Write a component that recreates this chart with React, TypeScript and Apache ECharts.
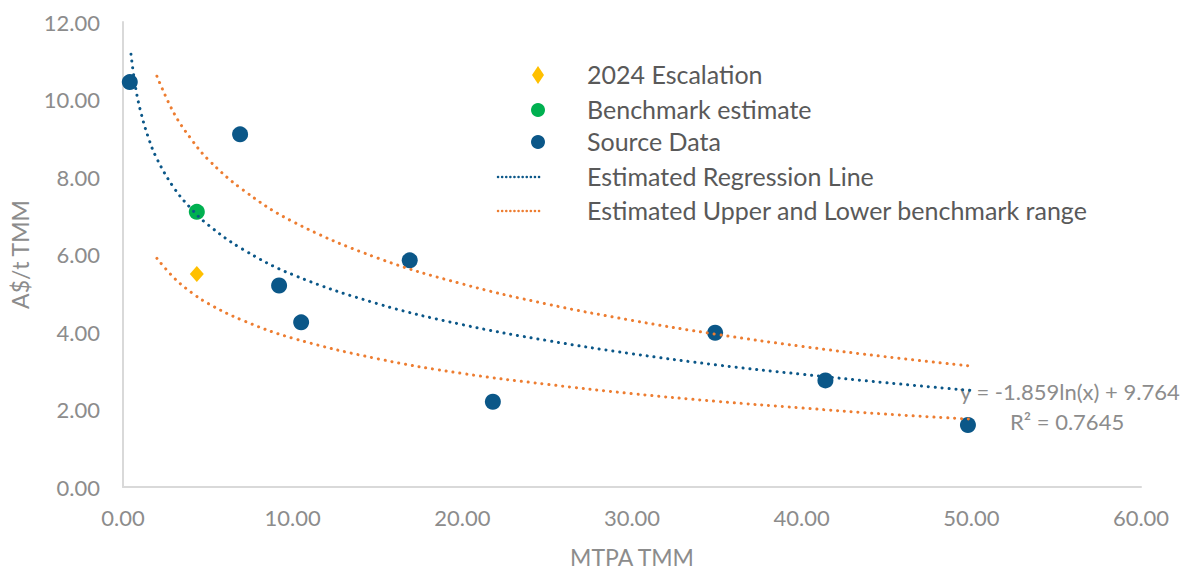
import React, { useEffect, useRef } from "react";
import * as echarts from "echarts";

// Source data (MTPA TMM, A$/t TMM)
const sourceX = [0.4, 6.9, 9.2, 10.5, 16.9, 21.8, 34.9, 41.4, 49.8];
const sourceY = [10.45, 9.1, 5.2, 4.25, 5.85, 2.2, 3.98, 2.75, 1.6];

const benchmarkX = [4.35];
const benchmarkY = [7.1];

const escalationX = [4.35];
const escalationY = [5.5];

// Curves
const regX = [0.47, 0.7, 1, 1.5, 2, 3, 4, 5, 7, 10, 15, 20, 25, 30, 35, 40, 45, 50];
const regY = [11.17, 10.42, 9.76, 9.01, 8.47, 7.72, 7.19, 6.77, 6.15, 5.48, 4.73, 4.19, 3.78, 3.44, 3.15, 2.91, 2.69, 2.49];

const bandX = [2, 3, 4, 5, 7, 10, 15, 20, 25, 30, 35, 40, 45, 50];
const upperY = [10.6, 9.65, 8.99, 8.46, 7.69, 6.85, 5.91, 5.24, 4.72, 4.3, 3.94, 3.63, 3.36, 3.12];
const lowerY = [5.9, 5.4, 5.03, 4.74, 4.31, 3.84, 3.31, 2.93, 2.65, 2.41, 2.21, 2.04, 1.88, 1.75];

const xTicks = [0, 10, 20, 30, 40, 50, 60];
const yTicks = [0, 2, 4, 6, 8, 10, 12];

const legendNames = [
  "2024 Escalation",
  "Benchmark estimate",
  "Source Data",
  "Estimated Regression Line",
  "Estimated Upper and Lower benchmark range",
];

const trendText = ["y = -1.859ln(x) + 9.764", "R² = 0.7645"];

const BLUE = "#0b5788";
const GREEN = "#00b050";
const YELLOW = "#ffc000";
const ORANGE = "#ed7d31";
const GRAY = "#8c8c8c";
const FONT = "Lato, 'Open Sans', sans-serif";

const zip = (xs: number[], ys: number[]) => xs.map((x, i) => [x, ys[i]]);

export default function App() {
  const ref = useRef<HTMLDivElement>(null);
  useEffect(() => {
    document.body.style.margin = "0";
    if (!ref.current) return;
    const chart = echarts.init(ref.current, undefined, { renderer: "svg" });
    const dotted = (color: string) => ({
      color,
      width: 3,
      type: [0.1, 6.8] as any,
      cap: "round" as const,
    });
    const legendRows = [75, 110, 142, 177, 211];
    const legendGraphics: any[] = [];
    legendNames.forEach((name, i) => {
      legendGraphics.push({
        type: "text",
        left: 587,
        top: legendRows[i] - 14,
        style: { text: name, fill: "#595959", font: `25px ${FONT}` },
      });
    });
    legendGraphics.push(
      {
        type: "polygon",
        shape: {
          points: [
            [538, legendRows[0] - 9],
            [544, legendRows[0]],
            [538, legendRows[0] + 9],
            [532, legendRows[0]],
          ],
        },
        style: { fill: YELLOW },
      },
      { type: "circle", shape: { cx: 538, cy: legendRows[1], r: 7 }, style: { fill: GREEN } },
      { type: "circle", shape: { cx: 538, cy: legendRows[2], r: 7 }, style: { fill: BLUE } },
      {
        type: "line",
        shape: { x1: 498, y1: legendRows[3], x2: 540, y2: legendRows[3] },
        style: { stroke: BLUE, lineWidth: 2.5, lineDash: [0.1, 4], lineCap: "round" },
      },
      {
        type: "line",
        shape: { x1: 498, y1: legendRows[4], x2: 540, y2: legendRows[4] },
        style: { stroke: ORANGE, lineWidth: 2.5, lineDash: [0.1, 4], lineCap: "round" },
      },
      {
        type: "text",
        left: 960,
        top: 380,
        style: { text: trendText[0], fill: GRAY, font: `22px ${FONT}` },
      },
      {
        type: "text",
        left: 1010,
        top: 410,
        style: { text: trendText[1], fill: GRAY, font: `22px ${FONT}` },
      }
    );

    chart.setOption({
      animation: false,
      textStyle: { fontFamily: FONT },
      grid: { left: 120, right: 47, top: 22, bottom: 82, containLabel: false },
      xAxis: {
        type: "value",
        min: xTicks[0],
        max: xTicks[xTicks.length - 1],
        interval: 10,
        name: "MTPA TMM",
        nameLocation: "middle",
        nameGap: 58,
        nameTextStyle: { color: GRAY, fontSize: 23, fontFamily: FONT },
        axisLine: { show: true, lineStyle: { color: "#d9d9d9", width: 2 } },
        axisTick: { show: false },
        splitLine: { show: false },
        axisLabel: {
          color: GRAY,
          fontSize: 22,
          margin: 19,
          fontFamily: FONT,
          formatter: (v: number) => v.toFixed(2),
        },
      },
      yAxis: {
        type: "value",
        min: yTicks[0],
        max: yTicks[yTicks.length - 1],
        interval: 2,
        name: "A$/t TMM",
        nameLocation: "middle",
        nameGap: 92,
        nameTextStyle: { color: GRAY, fontSize: 23, fontFamily: FONT },
        axisLine: { show: true, lineStyle: { color: "#d9d9d9", width: 2 } },
        axisTick: { show: false },
        splitLine: { show: false },
        axisLabel: {
          color: GRAY,
          fontSize: 22,
          margin: 23,
          fontFamily: FONT,
          formatter: (v: number) => v.toFixed(2),
        },
      },
      graphic: legendGraphics,
      series: [
        {
          name: legendNames[2],
          type: "scatter",
          data: zip(sourceX, sourceY),
          symbol: "circle",
          symbolSize: 16,
          itemStyle: { color: BLUE, opacity: 1 },
          z: 2,
        },
        {
          name: legendNames[1],
          type: "scatter",
          data: zip(benchmarkX, benchmarkY),
          symbol: "circle",
          symbolSize: 16,
          itemStyle: { color: GREEN, opacity: 1 },
          z: 2,
        },
        {
          name: legendNames[0],
          type: "scatter",
          data: zip(escalationX, escalationY),
          symbol: "diamond",
          symbolSize: [14, 16],
          itemStyle: { color: YELLOW, opacity: 1 },
          z: 2,
        },
        {
          name: legendNames[3],
          type: "line",
          data: zip(regX, regY),
          smooth: 0.4,
          showSymbol: false,
          symbol: "none",
          lineStyle: dotted(BLUE),
          z: 3,
        },
        {
          name: legendNames[4],
          type: "line",
          data: zip(bandX, upperY),
          smooth: 0.4,
          showSymbol: false,
          symbol: "none",
          lineStyle: dotted(ORANGE),
          z: 3,
        },
        {
          name: legendNames[4] + " (lower)",
          type: "line",
          data: zip(bandX, lowerY),
          smooth: 0.4,
          showSymbol: false,
          symbol: "none",
          lineStyle: dotted(ORANGE),
          z: 3,
        },
      ],
    });
    return () => chart.dispose();
  }, []);
  return <div ref={ref} style={{ width: 1188, height: 573 }} />;
}
